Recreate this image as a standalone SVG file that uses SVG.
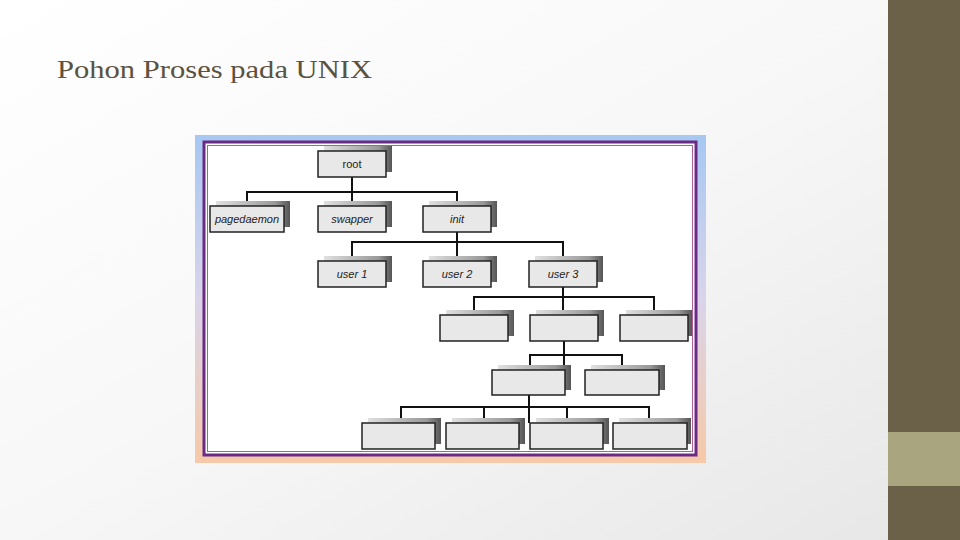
<svg xmlns="http://www.w3.org/2000/svg" width="960" height="540" viewBox="0 0 960 540">
<defs>
<linearGradient id="bg" x1="0" y1="0" x2="1" y2="1"><stop offset="0" stop-color="#ffffff"/><stop offset="0.5" stop-color="#f7f7f7"/><stop offset="1" stop-color="#e6e6e6"/></linearGradient>
<linearGradient id="fr" x1="0" y1="0" x2="0" y2="1"><stop offset="0" stop-color="#a6c8f2"/><stop offset="0.5" stop-color="#d9d4ea"/><stop offset="1" stop-color="#f6c9a8"/></linearGradient>
<linearGradient id="sh" x1="0" y1="0" x2="1" y2="0"><stop offset="0" stop-color="#e0e0e0"/><stop offset="0.8" stop-color="#999"/><stop offset="1" stop-color="#555"/></linearGradient>
<style>
.b{fill:#e8e8e8;stroke:#222;stroke-width:1.5}
.s{fill:url(#sh)}
.t{font-family:"Liberation Sans",Arial,sans-serif;font-size:11px;font-style:italic;fill:#222;text-anchor:middle}
.c{fill:none;stroke:#111;stroke-width:2}
</style>
</defs>
<rect width="960" height="540" fill="url(#bg)"/>
<rect x="888" y="0" width="72" height="540" fill="#6b6148"/>
<rect x="888" y="432" width="72" height="54" fill="#a9a67f"/>
<text x="57" y="78" font-family="'Liberation Serif',serif" font-size="26" fill="#5b5240" textLength="315" lengthAdjust="spacingAndGlyphs">Pohon Proses pada UNIX</text>
<rect x="195" y="135" width="511" height="328" fill="url(#fr)"/>
<rect x="204" y="142" width="492" height="313" fill="#fff" stroke="#6a2a86" stroke-width="3"/>
<rect x="207.5" y="145.5" width="485" height="306" fill="none" stroke="#b05aa0" stroke-width="1"/>
<g id="connectors">
<path class="c" d="M352 177V192M247 206V192H457V206M352 192V206"/>
<path class="c" d="M457 232V261M352 261V242H563V261"/>
<path class="c" d="M563 287V315M474 315V297H654V315"/>
<path class="c" d="M564 341V370M530 370V355H622V370"/>
<path class="c" d="M529 395V423M401 423V407H649V423M484 407V423M567 407V423"/>
</g>
<g id="root"><rect class="s" x="324" y="146" width="68" height="26"/><rect class="b" x="318" y="151" width="68" height="26"/><text class="t" x="352" y="168" style="font-style:normal">root</text></g>
<g id="pagedaemon"><rect class="s" x="216" y="201" width="74" height="26"/><rect class="b" x="210" y="206" width="74" height="26"/><text class="t" x="247" y="223">pagedaemon</text></g>
<g id="swapper"><rect class="s" x="324" y="201" width="68" height="26"/><rect class="b" x="318" y="206" width="68" height="26"/><text class="t" x="352" y="223">swapper</text></g>
<g id="init"><rect class="s" x="429" y="201" width="68" height="26"/><rect class="b" x="423" y="206" width="68" height="26"/><text class="t" x="457" y="223">init</text></g>
<g id="user1"><rect class="s" x="324" y="256" width="68" height="26"/><rect class="b" x="318" y="261" width="68" height="26"/><text class="t" x="352" y="278">user 1</text></g>
<g id="user2"><rect class="s" x="429" y="256" width="68" height="26"/><rect class="b" x="423" y="261" width="68" height="26"/><text class="t" x="457" y="278">user 2</text></g>
<g id="user3"><rect class="s" x="535" y="256" width="68" height="26"/><rect class="b" x="529" y="261" width="68" height="26"/><text class="t" x="563" y="278">user 3</text></g>
<g id="n4a"><rect class="s" x="446" y="310" width="68" height="26"/><rect class="b" x="440" y="315" width="68" height="26"/></g>
<g id="n4b"><rect class="s" x="536" y="310" width="68" height="26"/><rect class="b" x="530" y="315" width="68" height="26"/></g>
<g id="n4c"><rect class="s" x="626" y="310" width="66" height="26"/><rect class="b" x="620" y="315" width="68" height="26"/></g>
<g id="n5a"><rect class="s" x="498" y="365" width="73" height="25"/><rect class="b" x="492" y="370" width="73" height="25"/></g>
<g id="n5b"><rect class="s" x="591" y="365" width="74" height="25"/><rect class="b" x="585" y="370" width="74" height="25"/></g>
<g id="n6a"><rect class="s" x="368" y="418" width="73" height="26"/><rect class="b" x="362" y="423" width="73" height="26"/></g>
<g id="n6b"><rect class="s" x="452" y="418" width="73" height="26"/><rect class="b" x="446" y="423" width="73" height="26"/></g>
<g id="n6c"><rect class="s" x="536" y="418" width="73" height="26"/><rect class="b" x="530" y="423" width="73" height="26"/></g>
<g id="n6d"><rect class="s" x="619" y="418" width="72" height="26"/><rect class="b" x="613" y="423" width="74" height="26"/></g>
</svg>
